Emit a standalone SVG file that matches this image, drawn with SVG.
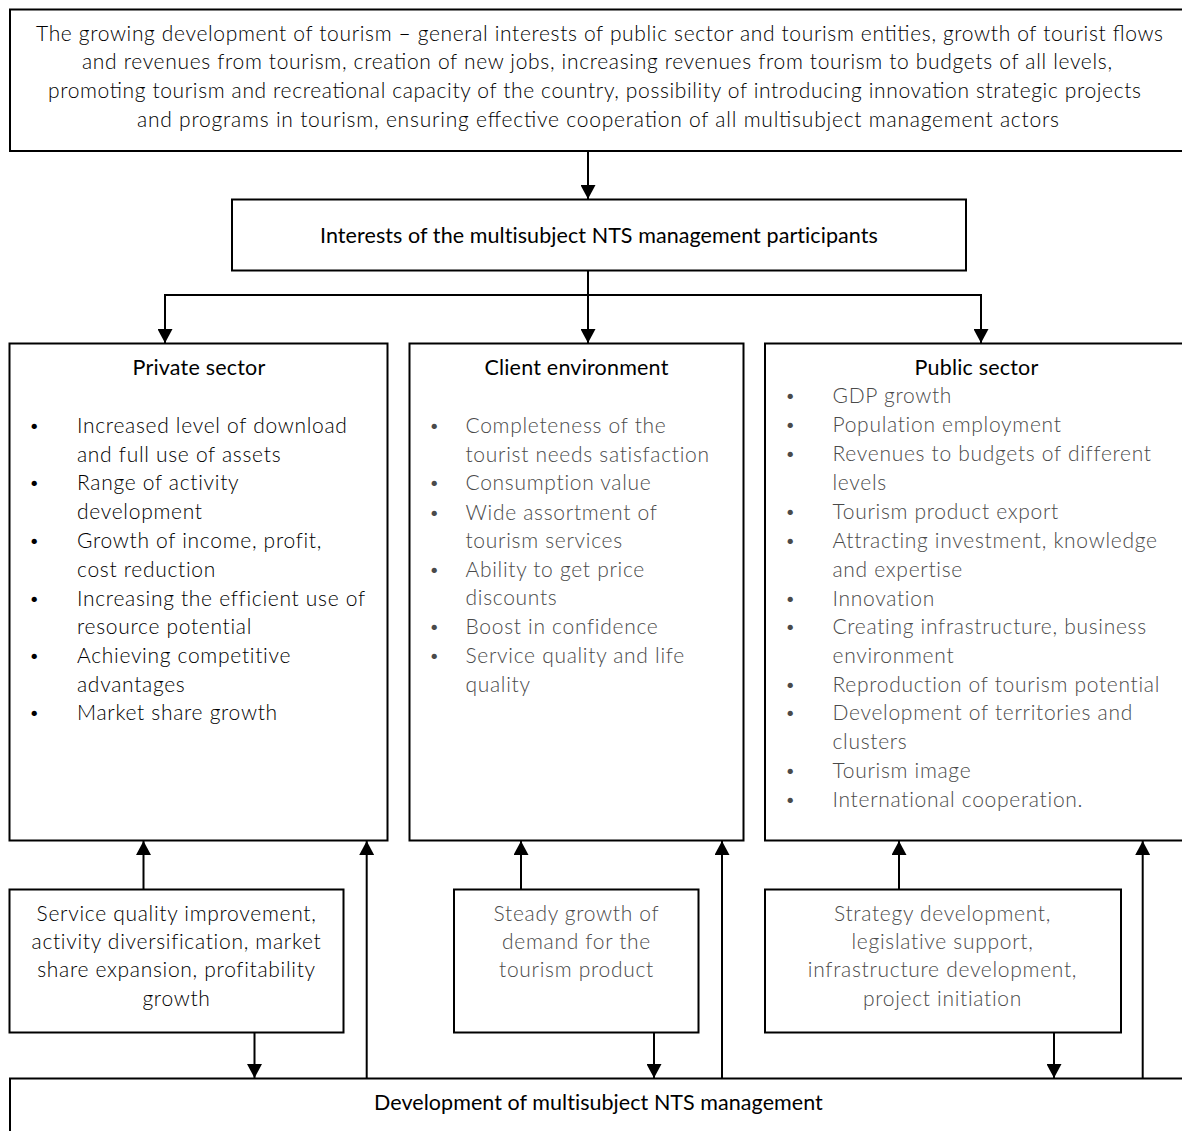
<svg xmlns="http://www.w3.org/2000/svg" width="1182" height="1131" viewBox="0 0 1182 1131">
<style>
.box{fill:#fff;stroke:#000;stroke-width:2}
.ln{stroke:#000;stroke-width:2;fill:none}
text{font-family:Lato,"Liberation Sans",sans-serif}
.t{font-size:21px;font-weight:300;fill:#000}
.h{font-size:21.5px;font-weight:400;fill:#000;letter-spacing:0.2px}
.g{font-size:21px;font-weight:300;fill:#4a4a4a;letter-spacing:0.7px}
.k{font-size:21px;font-weight:300;fill:#000;letter-spacing:0.7px}
.c{text-anchor:middle}
.b{font-size:18px;letter-spacing:0}
</style>
<defs>
<marker id="ah" viewBox="0 0 14 15" refX="14" refY="7.5" markerWidth="14" markerHeight="15" markerUnits="userSpaceOnUse" orient="auto">
<path d="M0,0 L14,7.5 L0,15 Z" fill="#000"/>
</marker>
</defs>
<rect width="1182" height="1131" fill="#fff"/>

<g id="connectors">
<line class="ln" x1="588" y1="151" x2="588" y2="199" marker-end="url(#ah)"/>
<line class="ln" x1="588" y1="271" x2="588" y2="343" marker-end="url(#ah)"/>
<polyline class="ln" points="165,343 165,295 981,295 981,343" marker-end="url(#ah)"/>
<line class="ln" x1="165" y1="295" x2="165" y2="343" marker-end="url(#ah)"/>
<line class="ln" x1="143.5" y1="889" x2="143.5" y2="841" marker-end="url(#ah)"/>
<line class="ln" x1="521" y1="889" x2="521" y2="841" marker-end="url(#ah)"/>
<line class="ln" x1="899" y1="889" x2="899" y2="841" marker-end="url(#ah)"/>
<line class="ln" x1="254.5" y1="1032" x2="254.5" y2="1078" marker-end="url(#ah)"/>
<line class="ln" x1="654" y1="1032" x2="654" y2="1078" marker-end="url(#ah)"/>
<line class="ln" x1="1054" y1="1032" x2="1054" y2="1078" marker-end="url(#ah)"/>
<line class="ln" x1="366.7" y1="1078" x2="366.7" y2="841" marker-end="url(#ah)"/>
<line class="ln" x1="722" y1="1078" x2="722" y2="841" marker-end="url(#ah)"/>
<line class="ln" x1="1142.7" y1="1078" x2="1142.7" y2="841" marker-end="url(#ah)"/>
</g>

<g id="top">
<rect class="box" x="10" y="9.5" width="1180" height="141.5"/>
<text class="t c" x="599.5" y="40.5" textLength="1127" lengthAdjust="spacing">The growing development of tourism – general interests of public sector and tourism entities, growth of tourist flows</text>
<text class="t c" x="597" y="69.3" textLength="1030" lengthAdjust="spacing">and revenues from tourism, creation of new jobs, increasing revenues from tourism to budgets of all levels,</text>
<text class="t c" x="594.5" y="98" textLength="1093" lengthAdjust="spacing">promoting tourism and recreational capacity of the country, possibility of introducing innovation strategic projects</text>
<text class="t c" x="598" y="126.7" textLength="922" lengthAdjust="spacing">and programs in tourism, ensuring effective cooperation of all multisubject management actors</text>
</g>

<g id="interests">
<rect class="box" x="232" y="199.5" width="734" height="71"/>
<text class="h c" x="599" y="243.3" textLength="558" lengthAdjust="spacing">Interests of the multisubject NTS management participants</text>
</g>

<g id="private">
<rect class="box" x="9.5" y="343.5" width="378" height="497"/>
<text class="h c" x="199" y="375">Private sector</text>
<g class="k">
<text class="b" x="29" y="432">•</text><text x="77" y="433">Increased level of download</text>
<text x="77" y="461.5">and full use of assets</text>
<text class="b" x="29" y="489">•</text><text x="77" y="490">Range of activity</text>
<text x="77" y="519">development</text>
<text class="b" x="29" y="547">•</text><text x="77" y="548">Growth of income, profit,</text>
<text x="77" y="576.5">cost reduction</text>
<text class="b" x="29" y="604.5">•</text><text x="77" y="605.5">Increasing the efficient use of</text>
<text x="77" y="634.3">resource potential</text>
<text class="b" x="29" y="662.3">•</text><text x="77" y="663.3">Achieving competitive</text>
<text x="77" y="691.7">advantages</text>
<text class="b" x="29" y="719">•</text><text x="77" y="720">Market share growth</text>
</g>
</g>

<g id="client">
<rect class="box" x="409.5" y="343.5" width="334" height="497"/>
<text class="h c" x="576.5" y="375">Client environment</text>
<g class="g">
<text class="b" x="429" y="432">•</text><text x="465.5" y="433">Completeness of the</text>
<text x="465.5" y="461.7">tourist needs satisfaction</text>
<text class="b" x="429" y="489">•</text><text x="465.5" y="490">Consumption value</text>
<text class="b" x="429" y="519">•</text><text x="465.5" y="520">Wide assortment of</text>
<text x="465.5" y="548">tourism services</text>
<text class="b" x="429" y="575.7">•</text><text x="465.5" y="576.7">Ability to get price</text>
<text x="465.5" y="605">discounts</text>
<text class="b" x="429" y="633">•</text><text x="465.5" y="634">Boost in confidence</text>
<text class="b" x="429" y="662">•</text><text x="465.5" y="663">Service quality and life</text>
<text x="465.5" y="691.7">quality</text>
</g>
</g>

<g id="public">
<rect class="box" x="765" y="343.5" width="425" height="497"/>
<text class="h c" x="976.5" y="375">Public sector</text>
<g class="g">
<text class="b" x="785" y="402.3">•</text><text x="832.5" y="403.3">GDP growth</text>
<text class="b" x="785" y="430.7">•</text><text x="832.5" y="431.7">Population employment</text>
<text class="b" x="785" y="460">•</text><text x="832.5" y="461">Revenues to budgets of different</text>
<text x="832.5" y="490">levels</text>
<text class="b" x="785" y="518.3">•</text><text x="832.5" y="519.3">Tourism product export</text>
<text class="b" x="785" y="546.7">•</text><text x="832.5" y="547.7">Attracting investment, knowledge</text>
<text x="832.5" y="576.7">and expertise</text>
<text class="b" x="785" y="604.7">•</text><text x="832.5" y="605.7">Innovation</text>
<text class="b" x="785" y="633.3">•</text><text x="832.5" y="634.3">Creating infrastructure, business</text>
<text x="832.5" y="663.3">environment</text>
<text class="b" x="785" y="690.7">•</text><text x="832.5" y="691.7">Reproduction of tourism potential</text>
<text class="b" x="785" y="719">•</text><text x="832.5" y="720">Development of territories and</text>
<text x="832.5" y="749">clusters</text>
<text class="b" x="785" y="777.3">•</text><text x="832.5" y="778.3">Tourism image</text>
<text class="b" x="785" y="805.7">•</text><text x="832.5" y="806.7">International cooperation.</text>
</g>
</g>

<g id="private-drivers">
<rect class="box" x="9.5" y="889.5" width="334" height="143"/>
<g class="k c">
<text x="176.5" y="920.5">Service quality improvement,</text>
<text x="176.5" y="949">activity diversification, market</text>
<text x="176.5" y="977">share expansion, profitability</text>
<text x="176.5" y="1005.5">growth</text>
</g>
</g>

<g id="client-drivers">
<rect class="box" x="454" y="889.5" width="244.5" height="143"/>
<g class="g c">
<text x="576.5" y="920.5">Steady growth of</text>
<text x="576.5" y="949">demand for the</text>
<text x="576.5" y="977">tourism product</text>
</g>
</g>

<g id="public-drivers">
<rect class="box" x="765" y="889.5" width="356" height="143"/>
<g class="g c">
<text x="942.5" y="920.5">Strategy development,</text>
<text x="942.5" y="949">legislative support,</text>
<text x="942.5" y="977">infrastructure development,</text>
<text x="942.5" y="1005.5">project initiation</text>
</g>
</g>

<g id="development">
<rect class="box" x="10" y="1078.5" width="1180" height="60"/>
<text class="h c" x="598.5" y="1110" textLength="449" lengthAdjust="spacing">Development of multisubject NTS management</text>
</g>
</svg>
